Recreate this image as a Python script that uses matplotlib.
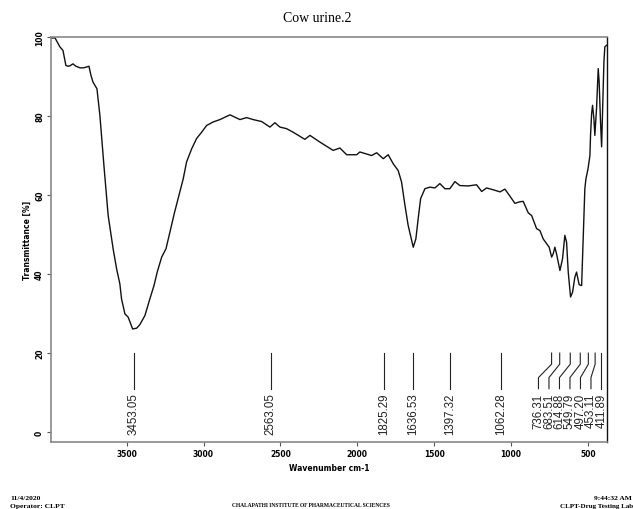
import matplotlib
matplotlib.use('Agg')
import matplotlib.pyplot as plt
import numpy as np

# spectrum (wavenumber cm-1, transmittance %)
wavenumber = [3992, 3966, 3934, 3914, 3895, 3882, 3869, 3849, 3830, 3804, 3778, 3745,
              3732, 3719, 3693, 3674, 3646, 3620, 3587, 3565, 3544, 3533, 3511, 3490,
              3461, 3435, 3414, 3381, 3349, 3322, 3301, 3272, 3244, 3189, 3132, 3110,
              3077, 3045, 3012, 2980, 2937, 2893, 2828, 2763, 2720, 2677, 2622, 2568,
              2536, 2503, 2460, 2417, 2341, 2308, 2243, 2157, 2113, 2069, 2004, 1983,
              1907, 1874, 1831, 1799, 1766, 1734, 1712, 1690, 1669, 1636, 1619, 1604,
              1588, 1560, 1528, 1495, 1463, 1430, 1398, 1365, 1333, 1279, 1224, 1191,
              1159, 1105, 1072, 1040, 1007, 975, 942, 921, 888, 866, 834, 812,
              791, 769, 752, 736, 726, 715, 704, 682, 665, 650, 639, 628,
              613, 600, 585, 574, 557, 541, 535, 526, 520, 513, 500, 487,
              483, 476, 470, 461, 455, 444, 433, 427, 418, 411, 405, 396,
              390, 379]
transmittance = [99.7, 99.8, 97.5, 96.6, 92.8, 92.6, 92.7, 93.2, 92.6, 92.2, 92.2, 92.6,
                 90.3, 88.6, 86.9, 80.2, 66.7, 54.8, 46.2, 41.3, 37.5, 33.7, 29.9, 29.1,
                 26.1, 26.3, 27.2, 29.5, 33.7, 37.1, 40.5, 44.3, 46.4, 55.5, 64.1, 68.4,
                 71.7, 74.3, 75.9, 77.6, 78.5, 79.1, 80.3, 79.1, 79.6, 79.1, 78.6, 77.2,
                 78.3, 77.2, 76.8, 75.9, 74.1, 75.1, 73.4, 71.3, 71.9, 70.2, 70.2, 70.9,
                 70.0, 70.7, 69.2, 70.2, 67.9, 66.2, 63.3, 57.4, 52.3, 46.8, 48.9, 54.0,
                 59.1, 61.6, 62.0, 61.8, 62.9, 61.6, 61.6, 63.4, 62.4, 62.3, 62.6, 60.9,
                 61.8, 61.2, 60.8, 61.5, 59.7, 57.9, 58.3, 58.4, 55.5, 54.8, 51.5, 51.0,
                 48.9, 47.7, 46.8, 44.3, 45.1, 46.8, 45.1, 40.9, 43.9, 49.8, 48.1, 40.5,
                 34.2, 35.4, 39.2, 40.5, 37.3, 37.1, 43.9, 54.0, 61.6, 64.1, 66.5, 70.0,
                 75.1, 80.6, 82.7, 79.3, 75.1, 81.9, 92.0, 88.6, 78.5, 72.2, 81.0, 93.7,
                 97.5, 97.9]

peaks = [3453.05, 2563.05, 1825.29, 1636.53, 1397.32, 1062.28,
         736.31, 683.51, 614.88, 549.79, 497.20, 453.11, 411.89]
peak_labels = ['%.2f' % p for p in peaks]

x_ticks = [3500, 3000, 2500, 2000, 1500, 1000, 500]
y_ticks = [0, 20, 40, 60, 80, 100]

fig = plt.figure(figsize=(6.34, 5.10), dpi=100)
ax = fig.add_axes([0.0804, 0.1314, 0.8770, 0.7941])

ax.plot(wavenumber, transmittance, color='#111111', lw=1.0)

ax.set_xlim(3992, 376)
ax.set_ylim(-2.5, 100)

# peak markers: spread crowded labels to the left
gap = 68.3
pos = list(peaks)
for i in range(len(pos) - 2, -1, -1):
    pos[i] = max(peaks[i], pos[i + 1] + gap)
for p, q, lab in zip(peaks, pos, peak_labels):
    ax.plot([p, p, q, q], [20, 17.2, 13.8, 11], color='#222222', lw=0.8)
    ax.text(q, 10, lab, rotation=90, ha='center', va='top', fontsize=8.3,
            family='Liberation Sans', color='#222222')

ax.set_xticks(x_ticks)
ax.set_yticks(y_ticks)
ax.set_xticklabels([str(t) for t in x_ticks], fontsize=5.5, fontweight='bold')
ax.set_yticklabels([str(t) for t in y_ticks], fontsize=5.5, fontweight='bold',
                   rotation=90, va='center')
ax.tick_params(length=3, width=0.8, color='#555555', pad=2)

for side in ['left', 'bottom', 'top']:
    ax.spines[side].set_color('#888888')
    ax.spines[side].set_linewidth(1.2)
ax.spines['right'].set_color('#111111')
ax.spines['right'].set_linewidth(1.0)

ax.set_xlabel('Wavenumber cm-1', fontsize=5.5, fontweight='bold', labelpad=4)
ax.set_ylabel('Transmittance [%]', fontsize=5.5, fontweight='bold', labelpad=2)

fig.text(0.5, 1 - 18 / 510, 'Cow urine.2', ha='center', va='center',
         fontsize=10, family='Liberation Serif')

foot = dict(family='Liberation Serif', fontweight='bold', va='center')
fig.text(10 / 634, 1 - 499 / 510, '11/4/2020', ha='left', fontsize=5.4, **foot)
fig.text(10 / 634, 1 - 506.5 / 510, 'Operator: CLPT', ha='left', fontsize=5.4, **foot)
fig.text(311 / 634, 1 - 506 / 510, 'CHALAPATHI INSTITUTE OF PHARMACEUTICAL SCIENCES',
         ha='center', fontsize=4.0, **foot)
fig.text(632 / 634, 1 - 499 / 510, '9:44:32 AM', ha='right', fontsize=5.4, **foot)
fig.text(633 / 634, 1 - 506.5 / 510, 'CLPT-Drug Testing Lab', ha='right', fontsize=5.0, **foot)

fig.savefig('out.png', dpi=100)
